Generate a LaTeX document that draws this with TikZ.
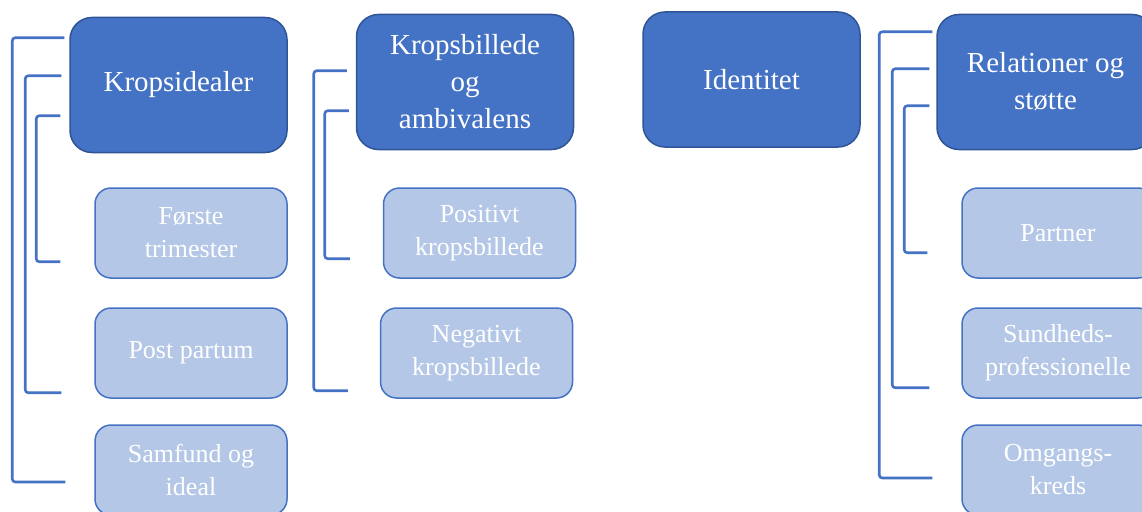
\documentclass[tikz,border=0pt]{standalone}
\usepackage{fontspec}
\setmainfont{Liberation Serif}
\definecolor{hovedblaa}{HTML}{4472C4}
\definecolor{hovedkant}{HTML}{2F5597}
\definecolor{lysblaa}{HTML}{B4C7E7}
\tikzset{
  hoved/.style={draw=hovedkant, line width=1.5pt, fill=hovedblaa, rounded corners=22pt,
    text=white, align=center, minimum width=217, minimum height=135,
    font=\fontsize{29}{37}\selectfont},
  under/.style={draw=hovedblaa, line width=1.5pt, fill=lysblaa, rounded corners=16pt,
    text=white, align=center, minimum width=192, minimum height=90,
    font=\fontsize{26}{33}\selectfont},
  klamme/.style={draw=hovedblaa, line width=2.6pt, rounded corners=3pt}
}
\begin{document}
\begin{tikzpicture}[x=1pt,y=-1pt]
  \useasboundingbox (0,0) rectangle (1142,511);
  % kolonne 1
  \node[hoved] (kp) at (178.5,85) {Kropsidealer};
  \node[under] (ft) at (191,233) {Første\\trimester};
  \node[under] (pp) at (191,353) {Post partum};
  \node[under] (sf) at (191,470) {Samfund og\\ideal};
  \draw[klamme] ([shift={(-5,21)}]kp.north west) -- ++(-52,0) |- ([shift={(-29,12)}]sf.west);
  \draw[klamme] ([shift={(-8,59)}]kp.north west) -- ++(-36,0) |- ([shift={(-33,-6)}]pp.south west);
  \draw[klamme] ([shift={(-9,99)}]kp.north west) -- ++(-24,0) |- ([shift={(-34,-17)}]ft.south west);
  % kolonne 2
  \node[hoved] (kb) at (465,82) {Kropsbillede\\og\\ambivalens};
  \node[under] (pk) at (479.5,233) {Positivt\\kropsbillede};
  \node[under] (nk) at (476.5,353) {Negativt\\kropsbillede};
  \draw[klamme] ([shift={(-9,57)}]kb.north west) -- ++(-33,0) |- ([shift={(-32,-8)}]nk.south west);
  \draw[klamme] ([shift={(-7,97)}]kb.north west) -- ++(-24,0) |- ([shift={(-33,-20)}]pk.south west);
  % kolonne 3
  \node[hoved] (id) at (751.5,79.5) {Identitet};
  % kolonne 4
  \node[hoved] (rs) at (1045.5,82) {Relationer og\\støtte};
  \node[under] (pa) at (1058,233) {Partner};
  \node[under] (sp) at (1058,353) {Sundheds-\\professionelle};
  \node[under] (ok) at (1058,470) {Omgangs-\\kreds};
  \draw[klamme] ([shift={(-4,18)}]rs.north west) -- ++(-53,0) |- ([shift={(-29,8)}]ok.west);
  \draw[klamme] ([shift={(-7,55)}]rs.north west) -- ++(-37,0) |- ([shift={(-32,-11)}]sp.south west);
  \draw[klamme] ([shift={(-7,92)}]rs.north west) -- ++(-25,0) |- ([shift={(-34,-26)}]pa.south west);
\end{tikzpicture}
\end{document}
